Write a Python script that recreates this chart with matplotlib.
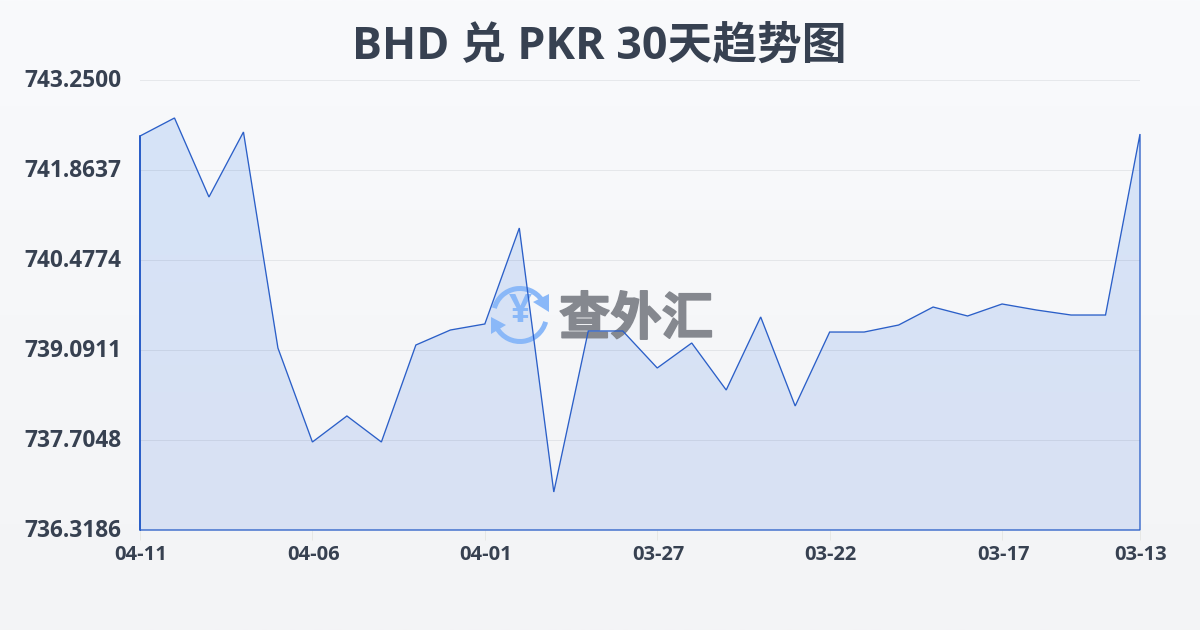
import numpy as np
import matplotlib
matplotlib.use('Agg')
import matplotlib.pyplot as plt
import matplotlib.patheffects as pe
from matplotlib.colors import LinearSegmentedColormap
from matplotlib.patches import Arc, Polygon
from matplotlib.transforms import ScaledTranslation

plt.rcParams['font.family'] = ['Open Sans', 'Noto Sans CJK SC', 'DejaVu Sans']

title = 'BHD 兑 PKR 30天趋势图'
watermark = '查外汇'
y_ticks = [736.3186, 737.7048, 739.0911, 740.4774, 741.8637, 743.2500]
y_labels = ['736.3186', '737.7048', '739.0911', '740.4774', '741.8637', '743.2500']
x_labels = ['04-11', '04-06', '04-01', '03-27', '03-22', '03-17', '03-13']
x_label_pos = [0, 5, 10, 15, 20, 25, 29]
# newest first, same as the picture
rates = [742.387, 742.665, 741.448, 742.449, 739.122, 737.674, 738.075, 737.674,
         739.168, 739.399, 739.492, 740.970, 736.904, 739.384, 739.384, 738.814,
         739.199, 738.475, 739.600, 738.229, 739.368, 739.368, 739.476, 739.753,
         739.615, 739.800, 739.707, 739.630, 739.630, 742.418]
days = np.arange(len(rates))

W, H = 1200, 630
y_min, y_max = y_ticks[0], y_ticks[-1]
box = [140 / W, 1 - 530 / H, 1000 / W, 450 / H]
fig = plt.figure(figsize=(12, 6.3), dpi=100)

# page background gradient
bg = fig.add_axes([0, 0, 1, 1], zorder=0)
bg.imshow(np.linspace(0, 1, 256).reshape(-1, 1),
          cmap=LinearSegmentedColormap.from_list('bg', ['#f9fafc', '#f3f4f6']),
          aspect='auto', extent=[0, 1, 0, 1])
bg.axis('off')

# fill, grid and tick labels
ax = fig.add_axes(box, zorder=1)
ax.patch.set_alpha(0)
fill_cmap = LinearSegmentedColormap.from_list('fill', ['#d6e4f8', '#d9e1f3'])
im = ax.imshow(np.linspace(0, 1, 256).reshape(-1, 1), cmap=fill_cmap, aspect='auto',
               extent=[0, 29, y_min, max(rates)], zorder=2)
verts = np.column_stack([np.r_[days, days[-1], 0], np.r_[rates, y_min, y_min]])
clip = Polygon(verts, closed=True, transform=ax.transData, fc='none', ec='none')
ax.add_patch(clip)
im.set_clip_path(clip)
ax.set_xlim(0, 29)
ax.set_ylim(y_min, y_max)

ax.set_yticks(y_ticks)
ax.set_yticklabels(y_labels)
ax.set_xticks(x_label_pos)
ax.set_xticklabels(x_labels)
ax.grid(axis='y', color='#374151', alpha=0.09, lw=0.72, zorder=3)
ax.set_axisbelow(False)
for s in ax.spines.values():
    s.set_visible(False)
ax.tick_params(axis='y', length=0, pad=13.5, labelsize=16.3, labelcolor='#374151')
ax.tick_params(axis='x', length=7.5, width=0.72, color='#e6e7e5', pad=3.5, labelsize=14.5, labelcolor='#374151')
up = ScaledTranslation(0, 2 / 100, fig.dpi_scale_trans)
right = ScaledTranslation(1 / 100, 0, fig.dpi_scale_trans)
for t in ax.get_yticklabels():
    t.set_fontweight('bold')
    t.set_transform(t.get_transform() + up)
for t in ax.get_xticklabels():
    t.set_fontweight('bold')
    t.set_transform(t.get_transform() + right)

fig.text(599 / W, 1 - 47.5 / H, title, ha='center', va='center', fontsize=32.2, fontweight='bold',
         color='#374151')

# watermark sits between the fill and the line, in pixel coordinates
wm = fig.add_axes([0, 0, 1, 1], zorder=2)
wm.patch.set_alpha(0)
wm.set_xlim(0, W)
wm.set_ylim(H, 0)
wm.axis('off')
wm.text(636, 319, watermark, ha='center', va='center', fontsize=37, fontweight='bold',
        color='#85888f', family=['Noto Sans CJK SC', 'DejaVu Sans'],
        path_effects=[pe.withStroke(linewidth=1.2, foreground='#85888f')])
logo = '#8ab8f8'
cx, cy, r = 520, 315, 26.5
wm.add_patch(Arc((cx, cy), 2 * r, 2 * r, theta1=195, theta2=325, color=logo, lw=3.6))
wm.add_patch(Arc((cx, cy), 2 * r, 2 * r, theta1=15, theta2=150, color=logo, lw=3.6))
wm.add_patch(Polygon([[549, 294], [549, 312], [533, 302]], closed=True, fc=logo, ec='none'))
wm.add_patch(Polygon([[491, 317], [491, 334], [506, 325]], closed=True, fc=logo, ec='none'))
wm.text(cx, 312, '¥', ha='center', va='center', fontsize=29, fontweight='bold', color=logo)

# outline of the area goes on top of everything
top = fig.add_axes(box, zorder=3)
top.patch.set_alpha(0)
top.plot(np.r_[0, days, days[-1], 0, 0], np.r_[y_min, rates, y_min, y_min, rates[0]],
         color='#2b5fc8', lw=0.95, clip_on=False, solid_joinstyle='miter')
top.set_xlim(0, 29)
top.set_ylim(y_min, y_max)
top.axis('off')

fig.savefig('out.png', dpi=100)
